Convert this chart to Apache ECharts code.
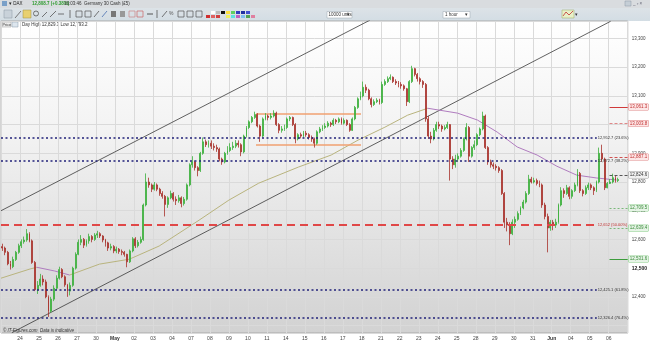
<!DOCTYPE html>
<html><head><meta charset="utf-8">
<script src="https://cdn.jsdelivr.net/npm/echarts@6/dist/echarts.min.js"></script>
<style>html,body{margin:0;padding:0;background:#fff}#c{width:650px;height:343px}</style>
</head><body><div id="c"></div>
<script>
// ---- day labels (one per trading day, first day Apr 23 not labelled) ----
const dayLabels = ['23','24','25','26','27','30','May','02','03','04','07','08','09','10','11','14','15','16','17','18','21','22','23','24','25','28','29','30','31','Jun','04','05','06'];
const monthLabels = ['May','Jun'];
const hiddenPriceLabels = [12300];
const barsPerDay = 7;
const firstOpen = 12575;
// ---- 2-hour candles: closes, highs, lows ----
const closes = [
12570,12555,12515,12505,12530,12555,12578,
12592,12598,12620,12595,12520,12425,12440,
12462,12452,12400,12350,12392,12430,12465,
12495,12470,12442,12420,12440,12500,12548,
12590,12600,12580,12595,12610,12600,12615,
12620,12612,12598,12588,12570,12575,12560,
12566,12558,12555,12548,12522,12560,12602,
12578,12590,12600,12720,12800,12790,12775,
12790,12775,12760,12750,12722,12745,12760,
12740,12735,12745,12725,12740,12790,12860,
12870,12850,12840,12900,12940,12930,12935,
12925,12920,12915,12880,12870,12900,12910,
12920,12925,12935,12930,12905,12960,12990,
13010,13025,13035,12995,12960,13020,13030,
13025,13030,13040,13000,12980,12985,12990,
13020,13025,13000,12950,12965,12960,12970,
12965,12955,12950,12935,12975,12985,12990,
12995,13005,13000,13015,13010,13020,13005,
13015,13000,12980,13020,13060,13090,13100,
13130,13120,13090,13070,13080,13085,13077,
13140,13150,13160,13165,13150,13145,13140,
13135,13125,13080,13150,13195,13175,13160,
13150,13140,13020,12960,12950,12980,13000,
12995,12985,12990,13000,12880,12860,12880,
12890,12910,12950,12990,12890,12920,12930,
12965,12985,13030,12920,12870,12860,12855,
12850,12840,12760,12660,12650,12620,12660,
12670,12690,12710,12730,12760,12810,12800,
12805,12795,12790,12720,12680,12640,12660,
12650,12660,12720,12770,12760,12780,12750,
12770,12790,12830,12770,12760,12780,12790,
12780,12770,12800,12900,12880,12780,12795,
12800,12815,12805,12808.7];
const highs = [
12585,12575,12560,12525,12540,12560,12585,
12600,12610,12636,12625,12600,12525,12455,
12480,12475,12460,12405,12400,12440,12475,
12505,12500,12475,12445,12450,12505,12555,
12600,12615,12605,12600,12620,12615,12622,
12630,12625,12615,12602,12592,12585,12580,
12575,12570,12565,12560,12550,12565,12608,
12608,12598,12610,12725,12830,12815,12795,
12800,12795,12780,12768,12755,12750,12770,
12765,12750,12755,12750,12748,12795,12865,
12890,12875,12855,12905,12955,12948,12945,
12945,12935,12930,12920,12885,12905,12925,
12935,12940,12946,12945,12935,12965,12995,
13015,13030,13045,13040,13000,13025,13040,
13035,13040,13050,13045,13005,12995,13000,
13025,13030,13028,13005,12970,12972,12978,
12978,12970,12962,12955,12980,12992,12998,
13005,13012,13010,13022,13020,13025,13025,
13022,13018,13005,13025,13065,13095,13115,
13150,13140,13125,13095,13088,13092,13090,
13150,13158,13168,13175,13168,13158,13152,
13148,13140,13128,13155,13205,13198,13180,
13165,13155,13145,13030,12975,12988,13010,
13010,13000,12998,13010,13002,12890,12895,
12900,12918,12955,13005,12995,12925,12945,
12970,12990,13045,13035,12925,12878,12868,
12862,12855,12845,12765,12675,12660,12670,
12680,12698,12715,12738,12768,12825,12818,
12815,12812,12805,12795,12728,12690,12668,
12668,12672,12725,12782,12778,12790,12785,
12775,12798,12845,12835,12775,12788,12798,
12795,12785,12805,12920,12930,12885,12800,
12810,12829,12822,12815];
const lows = [
12560,12545,12510,12495,12500,12525,12550,
12570,12585,12592,12590,12515,12420,12410,
12435,12440,12395,12330,12345,12385,12425,
12460,12465,12435,12400,12405,12435,12495,
12545,12580,12570,12575,12585,12590,12595,
12605,12605,12590,12575,12560,12562,12552,
12552,12550,12545,12540,12503,12518,12555,
12570,12572,12585,12595,12715,12780,12765,
12770,12768,12752,12742,12680,12710,12740,
12732,12720,12728,12712,12718,12735,12785,
12850,12840,12820,12835,12895,12922,12920,
12915,12910,12905,12872,12860,12865,12895,
12905,12912,12918,12920,12890,12900,12955,
12985,13005,13020,12990,12940,12955,13015,
13015,13018,13025,12995,12970,12972,12978,
12985,13012,12995,12935,12945,12952,12955,
12958,12948,12940,12920,12930,12970,12978,
12985,12990,12992,12995,13002,13005,13000,
13000,12995,12975,12978,13015,13055,13085,
13095,13110,13085,13060,13065,13075,13070,
13072,13135,13145,13155,13145,13138,13130,
13125,13118,13065,13075,13145,13168,13150,
13140,13128,13010,12950,12935,12945,12975,
12985,12975,12980,12985,12805,12845,12850,
12870,12885,12905,12945,12870,12885,12912,
12925,12960,12980,12915,12860,12850,12845,
12840,12832,12755,12640,12628,12580,12615,
12640,12665,12685,12705,12725,12755,12795,
12795,12788,12782,12710,12670,12555,12630,
12632,12640,12655,12715,12745,12755,12740,
12742,12765,12785,12762,12750,12755,12772,
12772,12755,12765,12795,12870,12772,12778,
12793,12795,12798,12800];
// ---- moving average ----
const maX = [-7,3.7,6.2,12.8,18.3,29.3,40.3,51.3,66,77,88,102.6,114.7,124.6,134.5,142.9,150.3,161.3,168.6,175.9,183.3,190.6,197.9,205.2,212.6,219.9];
const maY = [12465,12497,12503,12490,12476,12514,12531,12577,12667,12737,12796,12852,12894,12946,12991,13033,13057,13040,13016,12974,12922,12894,12855,12824,12814,12807];
// ---- trend channel lines ----
const upperChannel = [[-7,12700],[129,13364]];
const lowerChannel = [[-3,12275],[217.7,13360]];
// ---- consolidation range ----
const rangeTop = 13037, rangeBottom = 12929, rangeFrom = 87, rangeTo = 125.7;
// ---- retracement levels ----
const fibLevels = [12952.7,12872.7,12651.9,12425.1,12326.4];
const fibPct = ['23.6%','38.2%','50.00%','61.8%','76.4%'];
// ---- pivot levels ----
const pivotNames = ['R3.0','R2.0','R1.0','Piv.0','S1.0','S2.0','S3.0'];
const pivotLevels = [13061.3,13003.8,12887.1,12824.6,12709.5,12639.4,12531.6];
const lastPrice = 12808.7;

const fmt = v => v.toLocaleString('en-US',{minimumFractionDigits:1,maximumFractionDigits:1});
const candles = closes.map((c,i)=>[i - barsPerDay + 0.5, i===0?firstOpen:closes[i-1], c, lows[i], highs[i]]);
const maPts = maX.map((x,i)=>[x,maY[i]]);
const FONT = 'Liberation Sans, Arial, sans-serif';

const pivotStyle = [
 {c:'#d03a3a',t:'solid',bg:'#fde6e6',bc:'#e08a8a',tc:'#c03030'},
 {c:'#e08888',t:[3,2],bg:'#fde6e6',bc:'#e08a8a',tc:'#c03030'},
 {c:'#d05050',t:[3,2],bg:'#fde6e6',bc:'#e08a8a',tc:'#c03030'},
 {c:'#555555',t:[3,2],bg:'#f2f2f2',bc:'#999',tc:'#333'},
 {c:'#7ab87a',t:[2,2],bg:'#e6f4e6',bc:'#8c8',tc:'#3a8a3a'},
 {c:'#7ab87a',t:[2,2],bg:'#e6f4e6',bc:'#8c8',tc:'#3a8a3a'},
 {c:'#3c9c3c',t:'solid',bg:'#e6f4e6',bc:'#8c8',tc:'#3a8a3a'}
];
const pivotLines = [];
pivotLevels.forEach((v,i)=>{
  const s = pivotStyle[i];
  pivotLines.push([{coord:[217.3,v],lineStyle:{color:s.c,type:s.t,width:1},
    label:{show:true,position:'end',distance:1,formatter:fmt(v),fontSize:4.5,fontFamily:FONT,color:s.tc,backgroundColor:s.bg,borderColor:s.bc,borderWidth:0.5,padding:[1,1,0,1]}},{coord:[224,v]}]);
  pivotLines.push([{coord:[217.3,v],lineStyle:{opacity:0},
    label:{show:true,position:'insideEndTop',distance:0,formatter:pivotNames[i],fontSize:4.5,fontFamily:FONT,color:s.tc}},{coord:[224,v]}]);
});
pivotLines.push([{coord:[222,lastPrice],lineStyle:{opacity:0},
  label:{show:true,position:'end',distance:1,formatter:fmt(lastPrice),fontSize:4.5,fontFamily:FONT,color:'#222',backgroundColor:'#f4ee5a',borderColor:'#c8bf30',borderWidth:0.5,padding:[1,1,0,1]}},{coord:[224,lastPrice]}]);
pivotLines.push([{coord:[222,lastPrice],lineStyle:{opacity:0},
  label:{show:true,position:'end',distance:1,offset:[0,6],formatter:fmt(lastPrice-0.8),fontSize:4.5,fontFamily:FONT,color:'#fff',backgroundColor:'#2e8b2e',padding:[1,1,0,1]}},{coord:[224,lastPrice]}]);

const fibLines = fibLevels.map((v,i)=>{
  const red = i===2;
  return [{coord:[-7,v],lineStyle:red?{color:'#e04848',width:2,type:[8,5]}:{color:'#22227a',width:1.5,type:[2,2.5]},
    label:{show:true,position:'end',distance:1,formatter:(red?Math.round(v).toLocaleString('en-US'):fmt(v))+' ('+fibPct[i]+')',fontSize:4,fontFamily:FONT,color:red?'#c03030':'#333'}},{coord:[212.6,v]}];
});

const option = {
  animation:false,
  backgroundColor:'#ffffff',
  grid:{left:1,right:19,top:21,bottom:10,show:true,borderColor:'#a8a8a8',borderWidth:1,
    backgroundColor:{type:'linear',x:0,y:0,x2:0,y2:1,colorStops:[{offset:0,color:'#ffffff'},{offset:0.35,color:'#f3f3f3'},{offset:1,color:'#d2d2d2'}]}},
  xAxis:{type:'value',min:-barsPerDay,max:224,interval:barsPerDay,
    axisLine:{show:false},axisTick:{show:false},
    splitLine:{show:true,lineStyle:{color:'#dadada',width:1}},
    axisLabel:{showMaxLabel:false,showMinLabel:false,fontSize:5,fontFamily:FONT,color:'#444',margin:3,
      formatter:v=>{const d=Math.round(v/barsPerDay)+1; if(d<1||d>=dayLabels.length) return ''; const s=dayLabels[d]; return monthLabels.includes(s)?'{b|'+s+'}':s;},
      rich:{b:{fontWeight:'bold',fontSize:5,fontFamily:FONT,color:'#333'}}}},
  yAxis:{type:'value',position:'right',min:12274,max:13361,splitNumber:11,minInterval:100,maxInterval:100,
    axisLine:{show:false},axisTick:{show:false},
    splitLine:{show:true,lineStyle:{color:'#dadada',width:1}},
    axisLabel:{showMinLabel:false,showMaxLabel:false,fontSize:4.5,fontFamily:FONT,color:'#444',margin:4,
      formatter:v=>hiddenPriceLabels.includes(v)?'':(v===12500?'{b|12,500}':v.toLocaleString('en-US')),rich:{b:{fontWeight:'bold',fontSize:5,fontFamily:FONT,color:'#222'}}}},
  series:[
    {type:'line',data:upperChannel,symbol:'none',lineStyle:{color:'#3a3a3a',width:0.8},silent:true,z:1},
    {type:'line',data:lowerChannel,symbol:'none',lineStyle:{color:'#3a3a3a',width:0.8},silent:true,z:1},
    {type:'line',data:maPts.slice(0,3),symbol:'none',lineStyle:{color:'#b9b47e',width:1},silent:true,z:1},
    {type:'line',data:maPts.slice(2,5),symbol:'none',lineStyle:{color:'#b07cbf',width:1},silent:true,z:1},
    {type:'line',data:maPts.slice(4,17),symbol:'none',lineStyle:{color:'#b9b47e',width:1},silent:true,z:1},
    {type:'line',data:maPts.slice(16),symbol:'none',lineStyle:{color:'#b07cbf',width:1},silent:true,z:1},
    {type:'line',data:[[rangeFrom,rangeTop],[rangeTo,rangeTop]],symbol:'none',lineStyle:{color:'#f0a070',width:1.5},silent:true,z:1},
    {type:'line',data:[[rangeFrom,rangeBottom],[rangeTo,rangeBottom]],symbol:'none',lineStyle:{color:'#f0a070',width:1.5},silent:true,z:1},
    {type:'line',data:[],silent:true,z:3,markLine:{symbol:'none',silent:true,animation:false,data:fibLines}},
    {type:'candlestick',data:candles,encode:{x:0,y:[1,2,3,4]},barWidth:1.4,z:4,
      itemStyle:{color:'#3cb03c',color0:'#a8322c',borderColor:'#3cb03c',borderColor0:'#a8322c',borderWidth:0.8}},
    {type:'line',data:[],silent:true,z:5,markLine:{symbol:'none',silent:true,animation:false,data:pivotLines}}
  ],
  graphic:[
    {type:'rect',shape:{x:0,y:0,width:650,height:21},style:{fill:{type:'linear',x:0,y:0,x2:0,y2:1,colorStops:[{offset:0,color:'#e2e6e9'},{offset:1,color:'#d3dde4'}]}},z:-1},
    {type:'rect',shape:{x:0,y:0,width:650,height:8},style:{fill:'#d9dcdf'}},
    {type:'rect',shape:{x:2,y:1,width:5,height:5},style:{fill:'#7aa0c8'}},
    {type:'text',x:9,y:1.5,style:{text:'▾ DAX',fontSize:4.5,fontFamily:FONT,fill:'#222'}},
    {type:'text',x:32,y:1.5,style:{text:'12,808.7 (+0.38%)',fontSize:4.5,fontFamily:FONT,fill:'#2e9b2e',fontWeight:'bold'}},
    {type:'text',x:64,y:1.5,style:{text:'16:03:46  Germany 30 Cash (£5)',fontSize:4.5,fontFamily:FONT,fill:'#333'}},
    {type:'rect',shape:{x:625,y:1,width:6,height:5},style:{fill:'#c5ced6',stroke:'#8d9aa5',lineWidth:0.5}},
    {type:'text',x:633,y:1,style:{text:'_ ▫ ×',fontSize:4.5,fontFamily:FONT,fill:'#667'}},
    // toolbar
    {type:'rect',shape:{x:4,y:10,width:8,height:8},style:{fill:'#c9d2da',stroke:'#8894a0',lineWidth:0.5}},
    {type:'line',shape:{x1:15,y1:18,x2:21,y2:11},style:{stroke:'#777',lineWidth:1}},
    {type:'rect',shape:{x:23,y:10,width:8,height:8},style:{fill:'#e8d070',stroke:'#a09040',lineWidth:0.5}},
    {type:'circle',shape:{cx:36,cy:13.5,r:2.5},style:{fill:'none',stroke:'#555',lineWidth:0.8}},
    {type:'line',shape:{x1:42,y1:17,x2:47,y2:12},style:{stroke:'#555',lineWidth:0.8}},
    {type:'line',shape:{x1:50,y1:17,x2:56,y2:11},style:{stroke:'#555',lineWidth:0.8}},
    {type:'line',shape:{x1:58,y1:14,x2:64,y2:14},style:{stroke:'#555',lineWidth:0.8}},
    {type:'line',shape:{x1:70,y1:10,x2:70,y2:18},style:{stroke:'#555',lineWidth:0.8}},
    {type:'rect',shape:{x:76,y:11,width:6,height:6},style:{fill:'none',stroke:'#555',lineWidth:0.7}},
    {type:'rect',shape:{x:85,y:11,width:6,height:6},style:{fill:'none',stroke:'#555',lineWidth:0.7}},
    {type:'line',shape:{x1:94,y1:17,x2:99,y2:11},style:{stroke:'#555',lineWidth:0.8}},
    {type:'line',shape:{x1:102,y1:17,x2:107,y2:11},style:{stroke:'#4a70b0',lineWidth:0.8}},
    {type:'rect',shape:{x:111,y:11,width:5,height:6},style:{fill:'#777'}},
    {type:'rect',shape:{x:120,y:11,width:5,height:6},style:{fill:'#999'}},
    {type:'rect',shape:{x:129,y:11,width:6,height:6},style:{fill:'none',stroke:'#c88',lineWidth:0.7}},
    {type:'rect',shape:{x:137,y:11,width:6,height:6},style:{fill:'none',stroke:'#c66',lineWidth:0.7}},
    {type:'line',shape:{x1:147,y1:14,x2:153,y2:14},style:{stroke:'#555',lineWidth:1}},
    {type:'line',shape:{x1:157,y1:10,x2:157,y2:18},style:{stroke:'#555',lineWidth:0.8}},
    {type:'line',shape:{x1:162,y1:17,x2:167,y2:11},style:{stroke:'#555',lineWidth:0.8}},
    {type:'text',x:169,y:11,style:{text:'%',fontSize:5,fontFamily:FONT,fill:'#555'}},
    {type:'rect',shape:{x:178,y:11,width:6,height:6},style:{fill:'none',stroke:'#555',lineWidth:0.7}},
    {type:'rect',shape:{x:187,y:11,width:6,height:6},style:{fill:'none',stroke:'#555',lineWidth:0.7}},
    {type:'rect',shape:{x:196,y:11,width:6,height:6},style:{fill:'none',stroke:'#555',lineWidth:0.7}},
    {type:'rect',shape:{x:206,y:11,width:4,height:3},style:{fill:'#e0e0e0'}},
    {type:'rect',shape:{x:211,y:11,width:4,height:3},style:{fill:'#ffffff'}},
    {type:'rect',shape:{x:216,y:11,width:4,height:3},style:{fill:'#bbbbbb'}},
    {type:'rect',shape:{x:221,y:11,width:4,height:3},style:{fill:'#111111'}},
    {type:'rect',shape:{x:206,y:15,width:4,height:3},style:{fill:'#d03030'}},
    {type:'rect',shape:{x:211,y:15,width:4,height:3},style:{fill:'#e06060'}},
    {type:'rect',shape:{x:216,y:15,width:4,height:3},style:{fill:'#d04040'}},
    {type:'rect',shape:{x:226,y:11,width:4,height:3},style:{fill:'#ffe040'}},
    {type:'rect',shape:{x:231,y:11,width:4,height:3},style:{fill:'#60d060'}},
    {type:'rect',shape:{x:236,y:11,width:4,height:3},style:{fill:'#3040c0'}},
    {type:'rect',shape:{x:241,y:11,width:4,height:3},style:{fill:'#2030a0'}},
    {type:'rect',shape:{x:246,y:11,width:4,height:3},style:{fill:'#4050d0'}},
    {type:'rect',shape:{x:226,y:15,width:4,height:3},style:{fill:'#f0f060'}},
    {type:'rect',shape:{x:231,y:15,width:4,height:3},style:{fill:'#60e0e0'}},
    {type:'rect',shape:{x:236,y:15,width:4,height:3},style:{fill:'#c060c0'}},
    {type:'rect',shape:{x:241,y:15,width:4,height:3},style:{fill:'#80c0f0'}},
    {type:'rect',shape:{x:246,y:15,width:4,height:3},style:{fill:'#50a050'}},
    {type:'rect',shape:{x:251,y:15,width:4,height:3},style:{fill:'#e080a0'}},
    {type:'rect',shape:{x:327,y:11.5,width:25,height:6.5},style:{fill:'#ffffff',stroke:'#98a4ae',lineWidth:0.5}},
    {type:'text',x:328.5,y:12.5,style:{text:'10000 units',fontSize:4.5,fontFamily:FONT,fill:'#333'}},
    {type:'text',x:347,y:12,style:{text:'▾',fontSize:5,fontFamily:FONT,fill:'#333'}},
    {type:'rect',shape:{x:443,y:11.5,width:27,height:6.5},style:{fill:'#ffffff',stroke:'#98a4ae',lineWidth:0.5}},
    {type:'text',x:445,y:12.5,style:{text:'1 hour',fontSize:4.5,fontFamily:FONT,fill:'#333'}},
    {type:'text',x:465,y:12,style:{text:'▾',fontSize:5,fontFamily:FONT,fill:'#333'}},
    {type:'rect',shape:{x:562,y:10,width:12,height:8},style:{fill:'#e8f0c8',stroke:'#9aa860',lineWidth:0.5}},
    {type:'polyline',shape:{points:[[563,16],[566,12],[569,15],[573,11]]},style:{stroke:'#c03030',lineWidth:0.8,fill:'none'}},
    {type:'text',x:575,y:12,style:{text:'▾',fontSize:5,fontFamily:FONT,fill:'#333'}},
    // price / day range caption
    {type:'rect',shape:{x:2,y:22,width:9,height:5},style:{fill:'#eeeeee',stroke:'#999',lineWidth:0.5}},
    {type:'text',x:2.5,y:22.5,style:{text:'Price',fontSize:3.8,fontFamily:FONT,fill:'#333'}},
    {type:'rect',shape:{x:12,y:22,width:6,height:5},style:{fill:'#dde6ee',stroke:'#8899aa',lineWidth:0.5}},
    {type:'text',x:22,y:22.5,style:{text:'Day High 12,829.3 Low 12,793.2',fontSize:4.5,fontFamily:FONT,fill:'#333'}},
    {type:'text',x:3,y:328,style:{text:'© IT-Figures.com  Data is indicative',fontSize:4.5,fontFamily:FONT,fontStyle:'italic',fill:'#333'},z:10}
  ]
};
echarts.init(document.getElementById('c')).setOption(option);
</script></body></html>
